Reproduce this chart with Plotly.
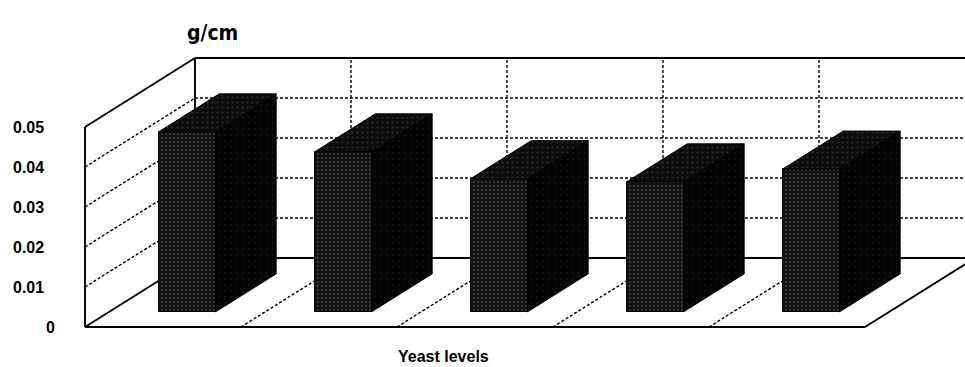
import plotly.graph_objects as go

# Mean g/cm for each yeast level
levels = [1, 2, 3, 4, 5]
values = [0.045, 0.040, 0.0333, 0.0325, 0.0357]
tick_vals = [0, 0.01, 0.02, 0.03, 0.04, 0.05]
tick_text = ["0", "0.01", "0.02", "0.03", "0.04", "0.05"]
y_max = 0.05

# Oblique projection: a point at depth d (0 = front, 1 = back) is shifted
# by d*DX category units to the right and d*DY value units upward.
DX = 0.705
DY = 0.01725
D_FRONT, D_BACK = 0.22, 0.77   # depth span of each bar
HALF_W = 0.1825                # half width of a bar's front face
N = len(levels)


def proj(x, v, d):
    return x + d * DX, v + d * DY


def seg(p, q):
    a, b = proj(*p), proj(*q)
    return [a[0], b[0], None], [a[1], b[1], None]


fig = go.Figure()

solid_x, solid_y = [], []
dash_x, dash_y = [], []

# frame: left wall, back wall top, floor outline
for p, q in [((0, 0, 0), (0, y_max, 0)),
             ((0, y_max, 0), (0, y_max, 1)),
             ((0, 0, 1), (0, y_max, 1)),
             ((0, y_max, 1), (N, y_max, 1)),
             ((0, 0, 0), (N, 0, 0)),
             ((0, 0, 0), (0, 0, 1)),
             ((0, 0, 1), (N, 0, 1)),
             ((N, 0, 0), (N, 0, 1))]:
    sx, sy = seg(p, q)
    solid_x += sx
    solid_y += sy

# value gridlines on the left and back walls
for v in tick_vals[1:-1]:
    for p, q in [((0, v, 0), (0, v, 1)), ((0, v, 1), (N, v, 1))]:
        sx, sy = seg(p, q)
        dash_x += sx
        dash_y += sy

# category dividers on the back wall and the floor
for k in range(1, N):
    for p, q in [((k, 0, 1), (k, y_max, 1)), ((k, 0, 0), (k, 0, 1))]:
        sx, sy = seg(p, q)
        dash_x += sx
        dash_y += sy

fig.add_trace(go.Scatter(x=dash_x, y=dash_y, mode="lines",
                         line=dict(color="#000000", width=1.4, dash="3px,2px"),
                         hoverinfo="skip", showlegend=False))
fig.add_trace(go.Scatter(x=solid_x, y=solid_y, mode="lines",
                         line=dict(color="#000000", width=1.9),
                         hoverinfo="skip", showlegend=False))

# bars: front faces as bars, tops and sides as filled polygons
centers = [i + 0.5 for i in range(N)]
fx = [c + D_FRONT * DX for c in centers]
base = D_FRONT * DY
fig.add_trace(go.Bar(
    x=fx, y=values, base=[base] * N, width=2 * HALF_W,
    marker=dict(color="#121212", line=dict(color="#000000", width=1),
                pattern=dict(shape=".", fgcolor="#7a7a7a", size=4, solidity=0.18)),
    xaxis="x2", yaxis="y2", hoverinfo="skip", showlegend=False))

for c, v in zip(centers, values):
    l, r = c - HALF_W, c + HALF_W
    top = [proj(l, v, D_FRONT), proj(r, v, D_FRONT), proj(r, v, D_BACK),
           proj(l, v, D_BACK), proj(l, v, D_FRONT)]
    side = [proj(r, 0, D_FRONT), proj(r, v, D_FRONT), proj(r, v, D_BACK),
            proj(r, 0, D_BACK), proj(r, 0, D_FRONT)]
    fig.add_trace(go.Scatter(
        x=[p[0] for p in side], y=[p[1] for p in side], mode="lines",
        fill="toself", fillcolor="#040404",
        fillpattern=dict(shape=".", fgcolor="#262626", bgcolor="#040404",
                         size=6, solidity=0.1),
        line=dict(color="#000000", width=1),
        xaxis="x2", yaxis="y2", hoverinfo="skip", showlegend=False))
    fig.add_trace(go.Scatter(
        x=[p[0] for p in top], y=[p[1] for p in top], mode="lines",
        fill="toself", fillcolor="#0c0c0c",
        fillpattern=dict(shape=".", fgcolor="#5a5a5a", bgcolor="#0c0c0c",
                         size=5, solidity=0.14),
        line=dict(color="#000000", width=1),
        xaxis="x2", yaxis="y2", hoverinfo="skip", showlegend=False))

x_rng = [-0.5449, 5.641]
y_rng = [-0.01, 0.08175]
ax = dict(range=x_rng, visible=False, fixedrange=True)
ay = dict(range=y_rng, visible=False, fixedrange=True)

font = dict(family="Liberation Sans, Arial, sans-serif", size=16, color="#000000")
annotations = []
for v, t in zip(tick_vals, tick_text):
    annotations.append(dict(
        x=-0.25 if v else -0.18, y=v, xref="x", yref="y", text=f"<b>{t}</b>",
        showarrow=False, xanchor="right", yanchor="middle", font=font))
annotations.append(dict(
    x=N / 2 - 0.5 + 0.3, y=-0.0073, xref="x", yref="y", text="<b>Yeast levels</b>",
    showarrow=False, xanchor="center", yanchor="middle",
    font=dict(family="Liberation Sans, Arial, sans-serif", size=16, color="#000000")))
annotations.append(dict(
    x=0.82, y=0.0735, xref="x", yref="y", text="<b>g/cm</b>",
    showarrow=False, xanchor="center", yanchor="middle",
    font=dict(family="DejaVu Sans Condensed, DejaVu Sans, sans-serif", size=21,
              color="#000000")))

fig.update_layout(
    width=965, height=367,
    margin=dict(l=0, r=0, t=0, b=0),
    paper_bgcolor="#ffffff", plot_bgcolor="#ffffff",
    xaxis=ax, yaxis=ay,
    xaxis2=dict(ax, overlaying="x"), yaxis2=dict(ay, overlaying="y"),
    bargap=0,
    annotations=annotations,
)

fig.write_html("out.html", config={"displayModeBar": False})
